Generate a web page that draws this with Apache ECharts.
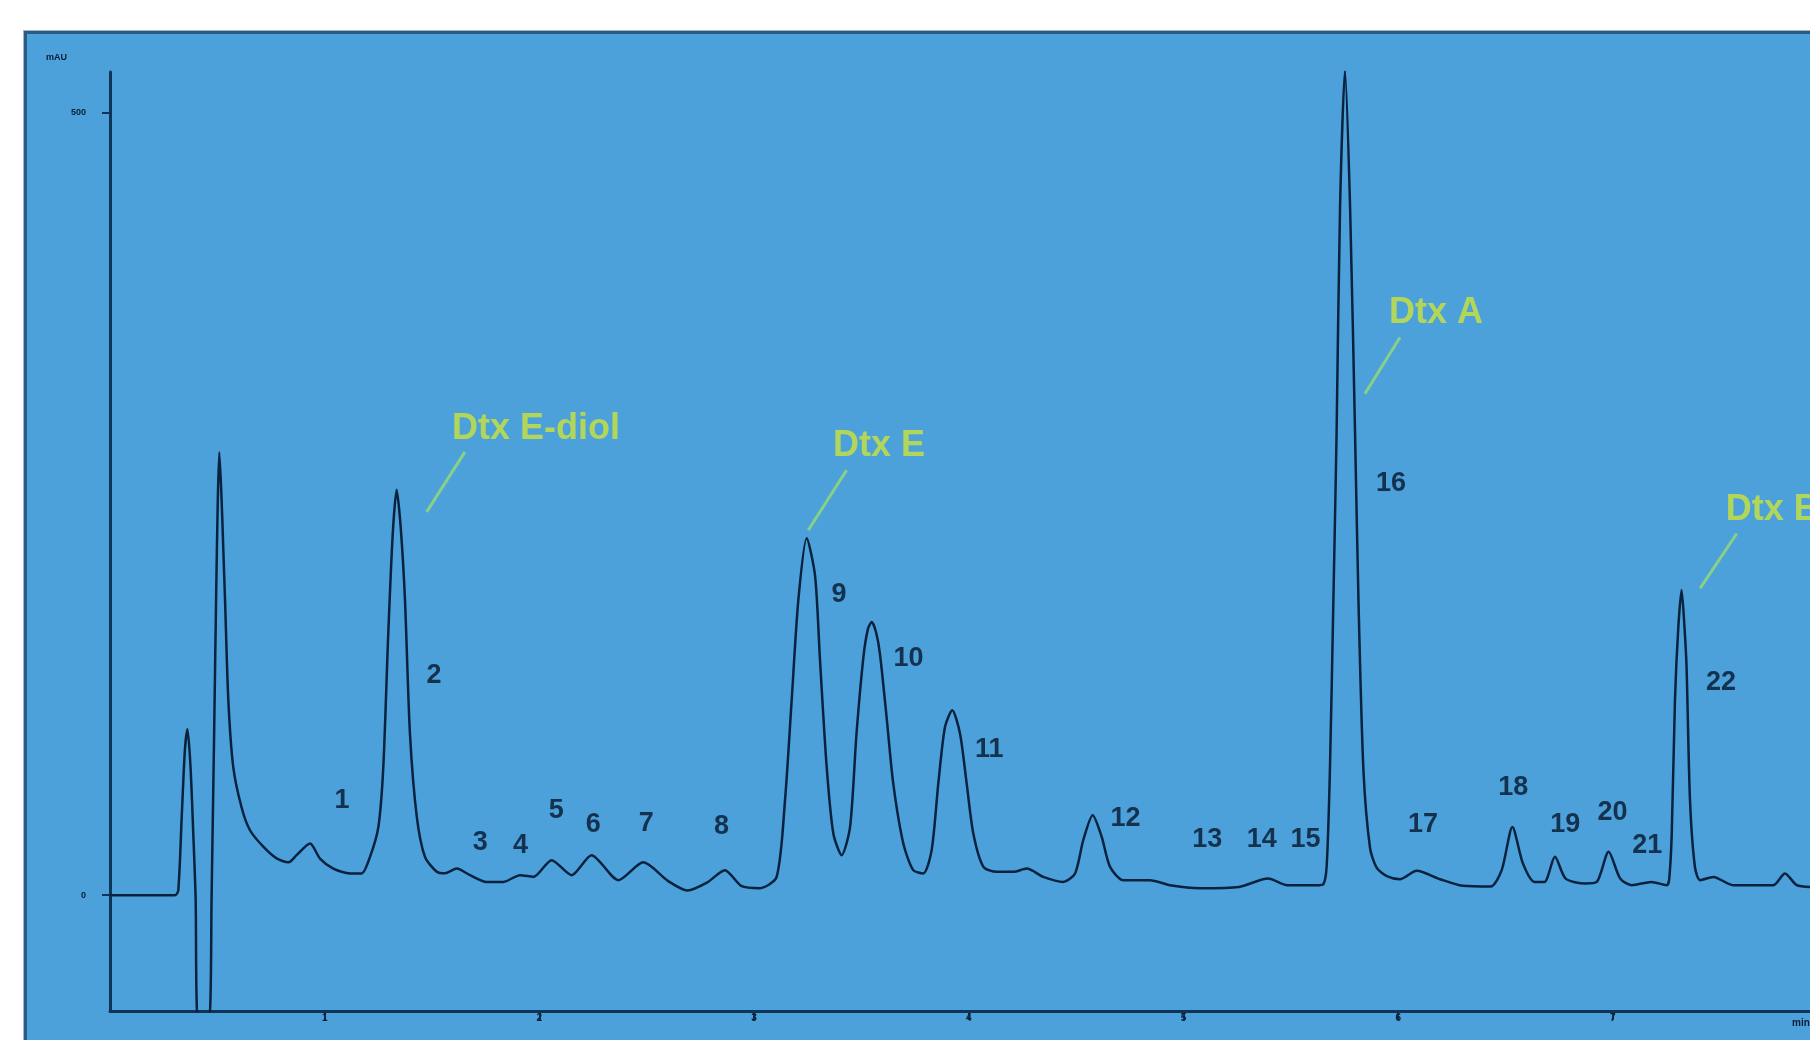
<!DOCTYPE html>
<html>
<head>
<meta charset="utf-8">
<script src="https://cdn.jsdelivr.net/npm/echarts@6/dist/echarts.min.js"></script>
<style>
  html, body { margin: 0; padding: 0; background: #ffffff; }
  #wrap { position: relative; width: 1810px; height: 1040px; overflow: hidden; }
  /* blue panel behind the plot */
  #panel {
    position: absolute; left: 24px; top: 31px; right: -10px; bottom: -10px;
    background: #4ca1db;
    border-left: 3px solid #2b5a84; border-top: 3px solid #2b5a84;
    box-shadow: -1px -1px 0 #9fb6c8;
  }
  #main { position: absolute; left: 0; top: 0; width: 1810px; height: 1040px; }
</style>
</head>
<body>
<div id="wrap">
  <div id="panel"></div>
  <div id="main"></div>
</div>
<script>
// retention time (min) and detector signal (mAU)
const retentionTime = [
  0, 0.303, 0.318, 0.334, 0.349, 0.361, 0.375, 0.388, 0.399, 0.405, 0.435, 0.466,
  0.473, 0.485, 0.494, 0.502, 0.509, 0.520, 0.528, 0.536, 0.551, 0.574, 0.613, 0.652,
  0.714, 0.776, 0.831, 0.869, 0.932, 0.978, 1.040, 1.118, 1.172, 1.211, 1.250, 1.273,
  1.296, 1.317, 1.335, 1.354, 1.374, 1.397, 1.429, 1.467, 1.522, 1.560, 1.615, 1.677,
  1.754, 1.832, 1.910, 1.972, 2.057, 2.150, 2.243, 2.368, 2.484, 2.600, 2.690, 2.780,
  2.864, 2.940, 3.027, 3.105, 3.144, 3.175, 3.206, 3.245, 3.284, 3.307, 3.338, 3.369,
  3.408, 3.447, 3.477, 3.509, 3.530, 3.548, 3.568, 3.586, 3.617, 3.648, 3.695, 3.741,
  3.788, 3.827, 3.858, 3.889, 3.923, 3.959, 3.990, 4.021, 4.068, 4.130, 4.207, 4.270,
  4.347, 4.440, 4.495, 4.533, 4.577, 4.619, 4.658, 4.720, 4.844, 4.937, 5.077, 5.258,
  5.394, 5.484, 5.620, 5.651, 5.667, 5.682, 5.698, 5.713, 5.729, 5.752, 5.776, 5.799,
  5.815, 5.838, 5.869, 5.900, 5.950, 6.008, 6.086, 6.195, 6.300, 6.430, 6.482, 6.532,
  6.581, 6.635, 6.681, 6.730, 6.780, 6.871, 6.925, 6.980, 7.034, 7.088, 7.179, 7.251,
  7.262, 7.274, 7.289, 7.305, 7.320, 7.333, 7.343, 7.359, 7.382, 7.406, 7.468, 7.560,
  7.747, 7.801, 7.856, 7.918
];
const signal = [
  0, 0, 3, 50, 93, 106, 82, 39, -3, -74, -115, -74,
  -3, 103, 188, 252, 283, 252, 220, 188, 125, 82, 56, 41.5,
  31, 23.5, 21, 25.6, 33, 23.4, 17, 13.9, 13.9, 24.5, 43.6, 82,
  167, 231, 259, 235, 188.5, 103.4, 50, 24.5, 15, 14, 17, 12.8,
  8.5, 8.5, 12.8, 11.7, 22.4, 12.8, 25.6, 9.6, 21, 9, 3, 8,
  16, 6, 4.5, 11.7, 60.7, 124.6, 188.5, 228, 204, 150, 82, 39.4,
  25.6, 43.6, 103.3, 152, 170, 174.6, 168, 154.4, 113.9, 71.4, 33, 16,
  13.9, 28.8, 71.4, 107.5, 118.2, 103.3, 71.4, 39.4, 18.1, 14.9, 14.9, 17,
  11.7, 8.5, 13.9, 35.1, 51.1, 37.3, 18.1, 9.6, 9.6, 6.4, 4.5, 5.3,
  10.6, 6.4, 6.4, 7, 19, 80, 188, 295, 439, 527, 439, 295,
  188, 80, 30, 17.4, 12, 10.2, 15.6, 10.2, 6, 5.5, 16, 43.6,
  20.2, 8.5, 8.5, 24.5, 10.6, 7.5, 8.5, 27.7, 10.6, 6.4, 8.5, 6.4,
  10, 39, 124.6, 172, 195, 172, 146, 61, 18, 9.6, 11.7, 6.4,
  6.4, 13.9, 6.4, 5.3
];

// peak numbers and where their labels sit (min, mAU)
const peakNumbers = ['1','2','3','4','5','6','7','8','9','10','11','12','13','14','15','16','17','18','19','20','21','22'];
const peakLabelTime = [1.081, 1.509, 1.724, 1.912, 2.079, 2.251, 2.498, 2.848, 3.396, 3.719, 4.095,
  4.730, 5.111, 5.364, 5.568, 5.966, 6.116, 6.536, 6.778, 6.998, 7.160, 7.504];
const peakLabelHeight = [60.7, 140.4, 33.5, 32, 54.1, 45.2, 46, 43.8, 192.3, 151, 93.2,
  48.9, 35.7, 35.7, 35.7, 262.9, 45.2, 68.8, 45.2, 52.6, 32, 136.1];

// identified compounds, label anchor (left edge) and leader line ends
const compoundNames = ['Dtx E-diol', 'Dtx E', 'Dtx A', 'Dtx B'];
const compoundLabelTime = [1.593, 3.367, 5.957, 7.526];
const compoundLabelHeight = [297.8, 287.2, 372, 246];
const leaderFrom = [[1.653, 283.3], [3.431, 271.6], [6.008, 356.3], [7.577, 231.1]];
const leaderTo = [[1.475, 244.9], [3.252, 233.2], [5.845, 320.4], [7.406, 196]];

const yTickValues = [0, 500];
const xMin = 0, xMax = 7.918, yMin = -74, yMax = 526;

(function () {
  'use strict';
  const chart = echarts.init(document.getElementById('main'), null, { renderer: 'canvas' });

  const axisColor = '#0e3558';
  const traceColor = '#0a223e';
  const font = 'Liberation Sans, Arial, sans-serif';

  const trace = retentionTime.map((t, i) => [t, signal[i]]);
  const peaks = peakNumbers.map((n, i) => [peakLabelTime[i], peakLabelHeight[i], n]);
  const compounds = compoundNames.map((n, i) => [compoundLabelTime[i], compoundLabelHeight[i], n]);
  const leaders = leaderFrom.map((p, i) => ({ coords: [p, leaderTo[i]] }));

  const option = {
    backgroundColor: 'transparent',
    animation: false,
    grid: { left: 110, right: 0, top: 72, bottom: 29, containLabel: false },
    xAxis: {
      type: 'value', min: xMin, max: xMax, interval: 1,
      axisLine: { onZero: false, lineStyle: { color: axisColor, width: 3 } },
      axisTick: { show: true, inside: false, length: 9, lineStyle: { color: axisColor, width: 2 } },
      axisLabel: { showMinLabel: false, showMaxLabel: false, color: '#0a1d36', fontSize: 10, fontWeight: 'bold', margin: 2, fontFamily: font },
      splitLine: { show: false }
    },
    yAxis: {
      type: 'value', min: yMin, max: yMax,
      axisLine: { show: true, lineStyle: { color: axisColor, width: 3 } },
      axisTick: { show: true, length: 8, customValues: yTickValues, lineStyle: { color: axisColor, width: 2 } },
      axisLabel: { customValues: yTickValues, color: '#0a1d36', fontSize: 9, fontWeight: 'bold', margin: 24, fontFamily: font },
      splitLine: { show: false }
    },
    graphic: [
      { type: 'text', left: 46, top: 53, style: { text: 'mAU', fill: '#0a1d36', font: 'bold 9px ' + font } },
      { type: 'text', left: 1792, top: 1018, style: { text: 'min', fill: '#0a1d36', font: 'bold 10px ' + font } }
    ],
    series: [
      {
        name: 'trace', type: 'line', data: trace, showSymbol: false,
        smooth: 0.25,
        clip: true,
        lineStyle: { color: traceColor, width: 2.5 }, z: 3
      },
      {
        name: 'leaders', type: 'lines', coordinateSystem: 'cartesian2d', data: leaders,
        lineStyle: { color: '#93d87a', width: 3, opacity: 0.85 }, z: 4
      },
      {
        name: 'peak numbers', type: 'scatter', data: peaks, symbolSize: 0,
        label: {
          show: true, position: 'inside', formatter: p => p.value[2],
          color: '#06152b', fontSize: 27, fontWeight: 'bold', fontFamily: font
        }, z: 5
      },
      {
        name: 'compounds', type: 'scatter', data: compounds, symbolSize: 0,
        label: {
          show: true, position: 'right', distance: 0, formatter: p => p.value[2],
          color: '#cbe43a', fontSize: 36, fontWeight: 'bold', fontFamily: font
        }, z: 5
      }
    ]
  };

  chart.setOption(option);
})();
</script>
</body>
</html>
